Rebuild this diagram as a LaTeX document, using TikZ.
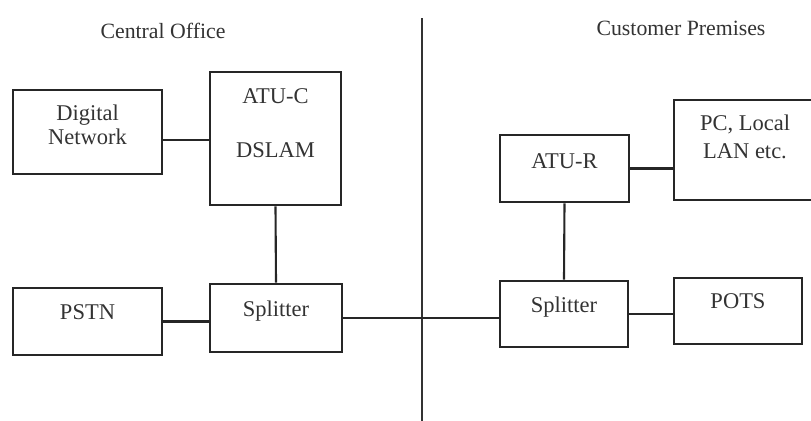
\documentclass[tikz,border=0pt]{standalone}
\usepackage{fontspec}
\setmainfont{Liberation Serif}
\usepackage{tikz}
\usetikzlibrary{positioning,calc}
\tikzset{
  block/.style={draw=black!85,line width=2pt,align=center,inner sep=0pt,
    font=\fontsize{16}{17}\selectfont,text=black!80},
  lifted/.style={text height=12pt,text depth=#1},
  link/.style={draw=black!85,line width=1.5pt},
  divider/.style={draw=black!80,line width=2pt},
  heading/.style={font=\fontsize{15.5}{17}\selectfont,text=black!80,inner sep=1pt}
}

\begin{document}
\begin{tikzpicture}[x=0.025cm,y=-0.025cm]
      \useasboundingbox (0,0) rectangle (811,421);
      % central office side
      \node[heading] (co) at (163,31) {Central Office};
      \node[block,text depth=11pt,minimum width=149*0.025cm,minimum height=84*0.025cm] (dn) at (87.5,132) {Digital\\Network};
      \node[block,text depth=22pt,minimum width=131*0.025cm,minimum height=133*0.025cm] (atuc) at (275.5,138.5) {ATU-C\\[22pt]DSLAM};
      \node[block,lifted=15pt,minimum width=149*0.025cm,minimum height=67*0.025cm] (pstn) at (87.5,321.5) {PSTN};
      \node[block,lifted=14pt,minimum width=132*0.025cm,minimum height=68*0.025cm] (spl) at (276,318) {Splitter};
      % customer premises side
      \node[heading] (cp) at (681,28) {Customer Premises};
      \node[block,lifted=12pt,minimum width=129*0.025cm,minimum height=67*0.025cm] (atur) at (564.5,168.5) {ATU-R};
      \node[block,text depth=19pt,minimum width=142*0.025cm,minimum height=100*0.025cm] (pc) at (745,150) {PC, Local\\[3pt]LAN etc.};
      \node[block,lifted=14pt,minimum width=128*0.025cm,minimum height=66*0.025cm] (spr) at (564,314) {Splitter};
      \node[block,lifted=15pt,minimum width=128*0.025cm,minimum height=66*0.025cm] (pots) at (738,311) {POTS};
      % boundary
      \coordinate (top) at (422,18);
      \coordinate (bot) at (422,421);
      \draw[divider] (top)--(bot);
      % links
      \draw[link] (dn.east)++(0,8)--($(dn.east -| atuc.west)+(0,8)$);
      \draw[link] (atuc.south)--(spl.north);
      \draw[link] (pstn.east)--(pstn.east -| spl.west);
      \draw[link] (spl.east)--(spl.east -| spr.west);
      \draw[link] (atur.south)--(spr.north);
      \draw[link] (atur.east)--(atur.east -| pc.west);
      \draw[link] (spr.east)--(spr.east -| pots.west);
    \end{tikzpicture}
\end{document}
